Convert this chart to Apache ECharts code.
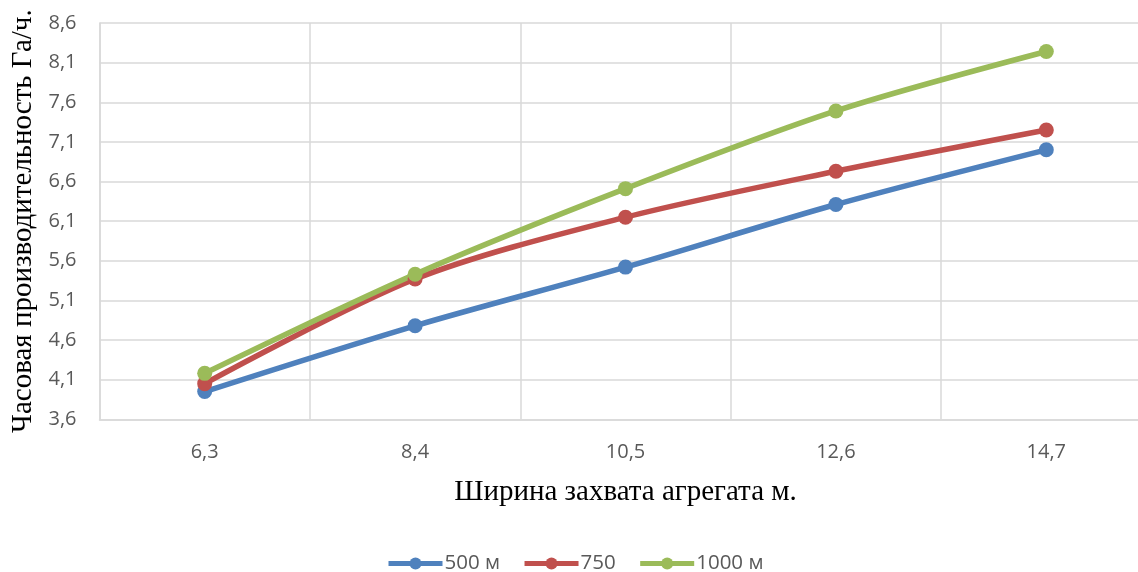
<!DOCTYPE html>
<html><head><meta charset="utf-8">
<script src="https://cdn.jsdelivr.net/npm/echarts@6/dist/echarts.min.js"></script>
<style>html,body{margin:0;padding:0;background:#fff;overflow:hidden;width:1138px;height:572px}#c{width:1152px;height:572px}</style>
</head><body><div id="c"></div>
<script>
const categories = ['6,3', '8,4', '10,5', '12,6', '14,7'];
const seriesNames = ['500 м', '750', '1000 м'];
const s500 = [3.95, 4.78, 5.52, 6.31, 7.00];
const s750 = [4.05, 5.37, 6.15, 6.73, 7.25];
const s1000 = [4.18, 5.43, 6.51, 7.49, 8.24];
const colors = ['#4F81BD', '#C0504D', '#9BBB59'];

const chart = echarts.init(document.getElementById('c'), null, {renderer: 'canvas'});
const lbl = {fontFamily: 'Open Sans', fontSize: 20, color: '#595959'};
function mk(name, data, i) {
  return {
    name: name, type: 'line', data: data, smooth: 0.3,
    symbol: 'circle', symbolSize: 15,
    lineStyle: {width: 5.5, color: colors[i]},
    itemStyle: {color: colors[i]},
    emphasis: {disabled: true}
  };
}
chart.setOption({
  animation: false,
  grid: {left: 99.5, right: 0.5, top: 23, bottom: 152.7, containLabel: false},
  legend: {
    top: 548, left: 381, itemWidth: 54, itemHeight: 15, itemGap: 22,
    lineStyle: {width: 5},
    textStyle: {fontFamily: 'Open Sans', fontSize: 20.5, color: '#595959', padding: [0, 0, 0, -3]},
    data: seriesNames
  },
  xAxis: {
    type: 'category', data: categories, boundaryGap: true,
    name: 'Ширина захвата агрегата м.', nameLocation: 'middle', nameGap: 59,
    nameTextStyle: {fontFamily: 'Liberation Serif', fontSize: 29, color: '#000'},
    axisLine: {lineStyle: {color: '#d9d9d9', width: 1.5}},
    axisTick: {show: false},
    axisLabel: Object.assign({margin: 23}, lbl),
    splitLine: {show: true, lineStyle: {color: '#d9d9d9', width: 1.5}}
  },
  yAxis: {
    type: 'value', min: 3.6, max: 8.6, interval: 0.5,
    name: 'Часовая производительность Га/ч.', nameLocation: 'middle', nameGap: 57,
    nameTextStyle: {fontFamily: 'Liberation Serif', fontSize: 29, color: '#000'},
    axisLine: {show: true, lineStyle: {color: '#d9d9d9', width: 1.5}},
    axisTick: {show: false},
    axisLabel: Object.assign({margin: 23, formatter: v => v.toFixed(1).replace('.', ',')}, lbl),
    splitLine: {show: true, lineStyle: {color: '#d9d9d9', width: 1.5}}
  },
  series: [mk(seriesNames[0], s500, 0), mk(seriesNames[1], s750, 1), mk(seriesNames[2], s1000, 2)]
});
</script>
</body></html>
